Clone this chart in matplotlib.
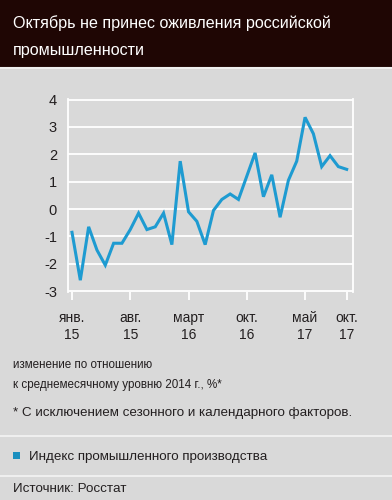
import matplotlib
matplotlib.use("Agg")
import matplotlib.pyplot as plt
from matplotlib.patches import Rectangle

plt.rcParams['font.family'] = ['Liberation Sans', 'DejaVu Sans']

# monthly index, Jan 2015 .. Oct 2017
values = [-0.85, -2.6, -0.65, -1.5, -2.05, -1.25, -1.25, -0.75, -0.15, -0.75,
          -0.65, -0.15, -1.3, 1.75, -0.1, -0.45, -1.3, -0.05, 0.35, 0.55,
          0.35, 1.2, 2.05, 0.45, 1.25, -0.3, 1.05, 1.75, 3.35, 2.75,
          1.55, 1.95, 1.55, 1.45]
months = list(range(len(values)))
tick_idx = [0, 7, 14, 21, 28, 33]
tick_labels = ['янв.\n15', 'авг.\n15', 'март\n16', 'окт.\n16', 'май\n17', 'окт.\n17']
y_ticks = [-3, -2, -1, 0, 1, 2, 3, 4]

title_lines = ['Октябрь не принес оживления российской', 'промышленности']
unit_note = ['изменение по отношению', 'к среднемесячному уровню 2014 г., %*']
footnote = '* С исключением сезонного и календарного факторов.'
legend_label = 'Индекс промышленного производства'
source = 'Источник: Росстат'

BG = '#d9d9d9'
HEAD = '#1f0604'
LINE = '#1e9bd1'
TXT = '#231f20'

W, H = 392, 500
fig = plt.figure(figsize=(W / 100, H / 100), dpi=100, facecolor=BG)

def px(x, y):
    return x / W, 1 - y / H

# header
fig.patches.append(Rectangle((0, 1 - 67 / H), 1, 67 / H, transform=fig.transFigure,
                             facecolor=HEAD, edgecolor='none', zorder=0))
fig.lines.append(plt.Line2D([0, 1], [1 - 68 / H] * 2, transform=fig.transFigure,
                            color='#efefef', lw=1.5))
fig.text(*px(13, 28), title_lines[0], color='white', fontsize=11.6, va='baseline', ha='left')
fig.text(*px(13, 55), title_lines[1], color='white', fontsize=11.6, va='baseline', ha='left')

# chart
ax = fig.add_axes([68 / W, 1 - 291.7 / H, (352.5 - 68) / W, (291.7 - 99) / H])
ax.set_facecolor(BG)
ax.plot(months, values, color=LINE, lw=2.2, solid_joinstyle='miter', zorder=3)
ax.set_xlim(-0.48, 33.7)
ax.set_ylim(-3.02, 4.02)
ax.set_yticks(y_ticks)
ax.set_yticklabels([str(v) for v in y_ticks])
ax.set_xticks(tick_idx)
ax.set_xticklabels(tick_labels, linespacing=1.3)
ax.yaxis.grid(True, color='white', lw=1.3)
ax.xaxis.grid(False)
for s in ['top', 'bottom']:
    ax.spines[s].set_visible(False)
for s in ['left', 'right']:
    ax.spines[s].set_color('white')
    ax.spines[s].set_linewidth(1.3)
ax.tick_params(axis='y', length=0, pad=8, labelsize=10.5, labelcolor=TXT)
ax.tick_params(axis='x', length=6, width=1.3, color='white', pad=8,
               labelsize=10, labelcolor=TXT)

# notes
fig.text(*px(13, 368), unit_note[0], color=TXT, fontsize=8.4, va='baseline', ha='left')
fig.text(*px(13, 388), unit_note[1], color=TXT, fontsize=8.4, va='baseline', ha='left')
fig.text(*px(13, 416), footnote, color=TXT, fontsize=9.6, va='baseline', ha='left')
fig.lines.append(plt.Line2D([0, 1], [1 - 436 / H] * 2, transform=fig.transFigure,
                            color='#f2f2f2', lw=1.3))
fig.patches.append(Rectangle(px(13, 459), 7 / W, 7 / H, transform=fig.transFigure,
                             facecolor='#1a8fbf', edgecolor='none'))
fig.text(*px(29, 460), legend_label, color=TXT, fontsize=9.6, va='baseline', ha='left')
fig.lines.append(plt.Line2D([0, 1], [1 - 476 / H] * 2, transform=fig.transFigure,
                            color='#f2f2f2', lw=1.3))
fig.text(*px(13, 492), source, color=TXT, fontsize=9.6, va='baseline', ha='left')

fig.savefig('out.png', dpi=100, facecolor=BG)
